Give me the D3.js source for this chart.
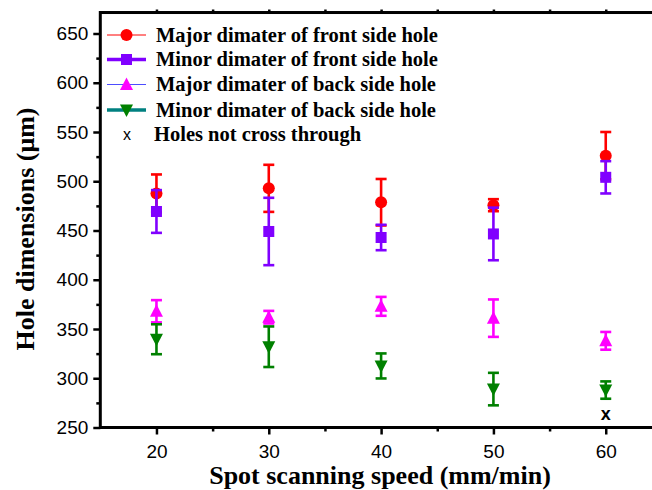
<!DOCTYPE html>
<html><head><meta charset="utf-8">
<script src="https://cdn.jsdelivr.net/npm/d3@7"></script>
<style>body{margin:0;background:#fff}svg{display:block}</style>
</head><body>
<svg id="c" width="652" height="490"></svg>
<script>
const speeds = [20, 30, 40, 50, 60];
const majorFront = [487.6, 492.8, 478.7, 475.7, 526];
const majorFrontErr = [19.3, 23.9, 23.6, 6.1, 24];
const minorFront = [469.3, 449, 442.9, 446.5, 504];
const minorFrontErr = [21.7, 34.2, 12.9, 26.7, 16.4];
const majorBack = [368, 362, 373, 361, 338];
const majorBackErr = [11.3, 6.4, 9.6, 19, 9];
const minorBack = [339.6, 332, 312.5, 289, 288];
const minorBackErr = [15.2, 20.6, 12.7, 16.5, 8.8];
const notThrough = [{x: 60, y: 264}];
const xTicks = [20, 30, 40, 50, 60];
const yTicks = [250, 300, 350, 400, 450, 500, 550, 600, 650];

const series = [
  {name: "Major dimater of front side hole", v: majorFront, e: majorFrontErr, color: "#ff0000", line: "#ff0000", lw: 1, shape: "circle"},
  {name: "Minor dimater of front side hole", v: minorFront, e: minorFrontErr, color: "#8000ff", line: "#8000ff", lw: 3.5, shape: "square"},
  {name: "Major dimater of back side hole", v: majorBack, e: majorBackErr, color: "#ff00ff", line: "#4d4dff", lw: 1, shape: "up"},
  {name: "Minor dimater of back side hole", v: minorBack, e: minorBackErr, color: "#008000", line: "#008080", lw: 3.5, shape: "down"}
];

const svg = d3.select("#c");
const x = d3.scaleLinear().domain([15, 65]).range([100.3, 661.9]);
const y = d3.scaleLinear().domain([250, 650]).range([427.5, 33.5]);
const yTop = y(671.3);

function marker(g, shape, cx, cy, color) {
  if (shape === "circle") g.append("circle").attr("cx", cx).attr("cy", cy).attr("r", 6).attr("fill", color);
  else if (shape === "square") g.append("rect").attr("x", cx - 5.5).attr("y", cy - 5.5).attr("width", 11).attr("height", 11).attr("fill", color);
  else if (shape === "up") g.append("path").attr("d", `M${cx},${cy-7}L${cx+6.5},${cy+5.5}L${cx-6.5},${cy+5.5}Z`).attr("fill", color);
  else g.append("path").attr("d", `M${cx},${cy+7}L${cx+6.5},${cy-5.5}L${cx-6.5},${cy-5.5}Z`).attr("fill", color);
}

// data
const plot = svg.append("g");
series.forEach(s => {
  speeds.forEach((sp, i) => {
    const cx = x(sp), t = y(s.v[i] + s.e[i]), b = y(s.v[i] - s.e[i]);
    const g = plot.append("g").attr("stroke", s.color).attr("stroke-width", 2.6);
    g.append("line").attr("x1", cx).attr("x2", cx).attr("y1", t).attr("y2", b);
    g.append("line").attr("x1", cx - 5.5).attr("x2", cx + 5.5).attr("y1", t).attr("y2", t);
    g.append("line").attr("x1", cx - 5.5).attr("x2", cx + 5.5).attr("y1", b).attr("y2", b);
    marker(plot, s.shape, cx, y(s.v[i]), s.color);
  });
});
notThrough.forEach(d => {
  plot.append("text").attr("x", x(d.x)).attr("y", y(d.y) + 6).attr("text-anchor", "middle")
    .attr("font-family", "Liberation Sans, Arial, sans-serif").attr("font-weight", "bold").attr("font-size", 18).text("x");
});

// axes
const xAxis = d3.axisBottom(x).tickValues(xTicks).tickSize(7).tickPadding(10).tickFormat(d3.format("d"));
const xMinor = d3.axisBottom(x).tickValues([25, 35, 45, 55]).tickSize(4).tickFormat("");
const yAxis = d3.axisLeft(y).tickValues(yTicks).tickSize(7).tickPadding(5).tickFormat(d3.format("d"));
const yMinor = d3.axisLeft(y).tickValues([275, 325, 375, 425, 475, 525, 575, 625]).tickSize(4).tickFormat("");

function style(g) {
  g.select(".domain").remove();
  g.selectAll(".tick line").attr("stroke", "#000").attr("stroke-width", 2.5);
  g.selectAll(".tick text").attr("font-family", "Liberation Sans, Arial, sans-serif").attr("font-size", 19).attr("fill", "#000");
}
svg.append("g").attr("transform", `translate(0,${y(250)})`).call(xAxis).call(style);
svg.append("g").attr("transform", `translate(0,${y(250)})`).call(xMinor).call(style);
svg.append("g").attr("transform", `translate(${x(15)},0)`).call(yAxis).call(style);
svg.append("g").attr("transform", `translate(${x(15)},0)`).call(yMinor).call(style);
svg.append("g").attr("transform", `translate(0,${yTop})`).call(d3.axisTop(x).tickValues(xTicks.concat([25,35,45,55])).tickSize(3).tickFormat("")).call(style);

// frame
svg.append("rect").attr("x", x(15)).attr("y", yTop).attr("width", x(65) - x(15)).attr("height", y(250) - yTop)
  .attr("fill", "none").attr("stroke", "#000").attr("stroke-width", 3);

// labels
svg.append("text").attr("x", 380).attr("y", 484).attr("text-anchor", "middle")
  .attr("font-family", "Liberation Serif, Times New Roman, serif").attr("font-weight", "bold").attr("font-size", 26)
  .text("Spot scanning speed (mm/min)");
svg.append("text").attr("transform", `translate(34,229) rotate(-90)`).attr("text-anchor", "middle")
  .attr("font-family", "Liberation Serif, Times New Roman, serif").attr("font-weight", "bold").attr("font-size", 26)
  .text("Hole dimensions (μm)");

// legend
const leg = svg.append("g");
const rows = [35, 59.5, 84.5, 110, 134.5];
series.forEach((s, i) => {
  const ly = rows[i];
  leg.append("line").attr("x1", 107).attr("x2", 146).attr("y1", ly).attr("y2", ly).attr("stroke", s.line).attr("stroke-width", s.lw);
  marker(leg, s.shape, 126.5, ly, s.color);
  leg.append("text").attr("x", 156).attr("y", ly + 6.5).attr("font-family", "Liberation Serif, Times New Roman, serif")
    .attr("font-weight", "bold").attr("font-size", 20.5).text(s.name);
});
leg.append("text").attr("x", 127).attr("y", rows[4] + 5).attr("text-anchor", "middle")
  .attr("font-family", "Liberation Sans, Arial, sans-serif").attr("font-size", 16).text("x");
leg.append("text").attr("x", 154).attr("y", rows[4] + 6.5).attr("font-family", "Liberation Serif, Times New Roman, serif")
  .attr("font-weight", "bold").attr("font-size", 20.5).text("Holes not cross through");
</script>
</body></html>
